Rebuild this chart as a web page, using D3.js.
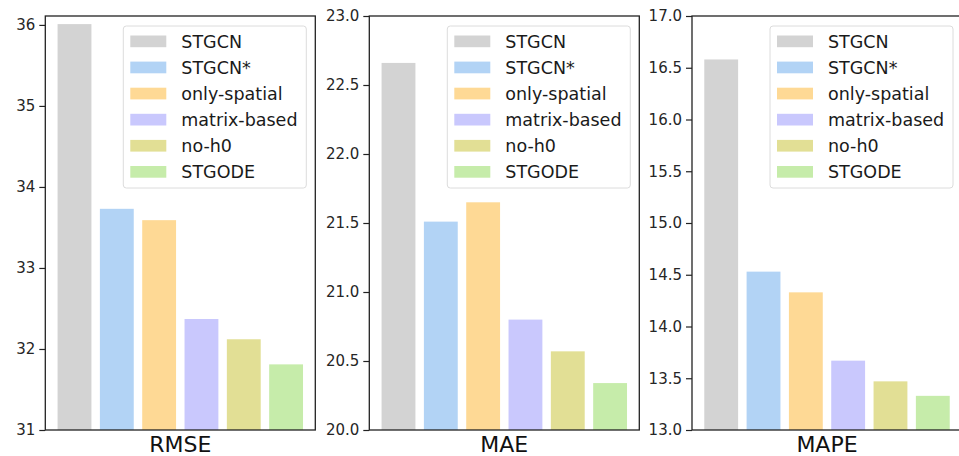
<!DOCTYPE html>
<html>
<head>
<meta charset="utf-8">
<script src="https://cdn.jsdelivr.net/npm/d3@7"></script>
<style>
  body { margin: 0; background: #fff; }
  svg { display: block; font-family: "DejaVu Sans", sans-serif; }
</style>
</head>
<body>
<div id="chart"></div>
<script>
/* DATA */
const methods = ["STGCN", "STGCN*", "only-spatial", "matrix-based", "no-h0", "STGODE"]
const colors = ["#d3d3d3", "#b2d3f5", "#fed995", "#c9c8fd", "#e2df95", "#c6ecaa"]

const rmse = [36.01, 33.73, 33.59, 32.37, 32.12, 31.81]
const mae = [22.66, 21.51, 21.65, 20.80, 20.57, 20.34]
const mape = [16.58, 14.53, 14.33, 13.67, 13.47, 13.33]

const metricNames = ["RMSE", "MAE", "MAPE"]
const yDomains = [[31, 36.11], [20, 23], [13, 17]]
const yTicks = [
  [31, 32, 33, 34, 35, 36],
  [20.0, 20.5, 21.0, 21.5, 22.0, 22.5, 23.0],
  [13.0, 13.5, 14.0, 14.5, 15.0, 15.5, 16.0, 16.5, 17.0]
]
const tickFormats = [d3.format("d"), d3.format(".1f"), d3.format(".1f")]

/* CONSTANTS */
const width = 959,
  height = 456,
  panelLeft = [45.3, 369.3, 692],
  panelW = 270,
  plotTop = 16,
  plotBottom = 430

const svg = d3.select("#chart")
  .append("svg")
  .attr("width", width)
  .attr("height", height)

const allValues = [rmse, mae, mape]

allValues.forEach((values, p) => {
  const x0 = panelLeft[p]

  const xScale = d3.scaleBand()
    .domain(methods)
    .range([x0, x0 + panelW])
    .paddingInner(0.2)
    .paddingOuter(0.29)

  const yScale = d3.scaleLinear()
    .domain(yDomains[p])
    .range([plotBottom, plotTop])

  const g = svg.append("g")

  // bars
  g.selectAll(".bar")
    .data(values)
    .join("rect")
    .attr("class", "bar")
    .attr("x", (d, i) => xScale(methods[i]))
    .attr("width", xScale.bandwidth())
    .attr("y", d => yScale(d))
    .attr("height", d => plotBottom - yScale(d))
    .attr("fill", (d, i) => colors[i])

  // y axis
  const yAxis = d3.axisLeft(yScale)
    .tickValues(yTicks[p])
    .tickFormat(tickFormats[p])
    .tickSize(6)
    .tickPadding(4)

  const ya = g.append("g")
    .attr("transform", `translate(${x0},0)`)
    .call(yAxis)
  ya.select(".domain").remove()
  ya.selectAll("line").attr("stroke", "#222").attr("stroke-width", 1.2)
  ya.selectAll("text")
    .attr("font-size", "15px")
    .attr("fill", "#262626")
    .attr("font-family", "DejaVu Sans")

  // frame
  g.append("rect")
    .attr("x", x0)
    .attr("y", plotTop)
    .attr("width", panelW)
    .attr("height", plotBottom - plotTop)
    .attr("fill", "none")
    .attr("stroke", "#222")
    .attr("stroke-width", 1.3)

  // x label
  g.append("text")
    .attr("x", x0 + panelW / 2)
    .attr("y", 452)
    .attr("text-anchor", "middle")
    .attr("font-size", "22px")
    .attr("fill", "#111")
    .text(metricNames[p])

  // legend
  const lx = x0 + panelW - 9 - 183,
    ly = 26
  const legend = g.append("g")
    .attr("transform", `translate(${lx},${ly})`)

  legend.append("rect")
    .attr("width", 183)
    .attr("height", 162)
    .attr("rx", 3)
    .attr("fill", "#fff")
    .attr("fill-opacity", 0.8)
    .attr("stroke", "#dcdcdc")
    .attr("stroke-width", 1)

  const rows = legend.selectAll(".row")
    .data(methods)
    .join("g")
    .attr("class", "row")
    .attr("transform", (d, i) => `translate(0,${15.3 + i * 26.1})`)

  rows.append("rect")
    .attr("x", 7)
    .attr("y", -5.8)
    .attr("width", 36)
    .attr("height", 11.7)
    .attr("fill", (d, i) => colors[i])

  rows.append("text")
    .attr("x", 58)
    .attr("y", 6.2)
    .attr("font-size", "17.5px")
    .attr("fill", "#1a1a1a")
    .text(d => d)
})
</script>
</body>
</html>
